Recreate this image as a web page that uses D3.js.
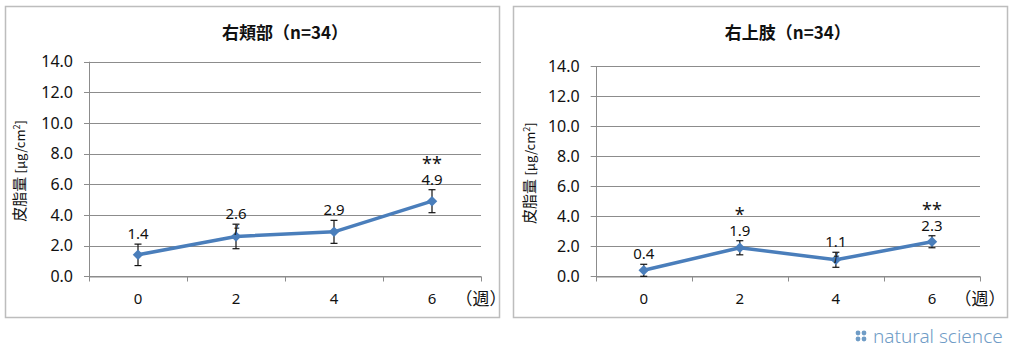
<!DOCTYPE html>
<html>
<head>
<meta charset="utf-8">
<script src="https://cdn.jsdelivr.net/npm/d3@7"></script>
<style>
  body { margin:0; background:#fff; }
  svg text { font-family: "Noto Sans", "Noto Sans CJK JP", sans-serif; }
</style>
</head>
<body>
<div id="chart"></div>
<script>
// ---- data
var weeks = ["0", "2", "4", "6"];
var yTicks = [0, 2, 4, 6, 8, 10, 12, 14];

var cheekMean = [1.4, 2.6, 2.9, 4.9];
var cheekSD = [0.7, 0.8, 0.75, 0.75];
var cheekSig = ["", "", "", "**"];
var cheekTrend = ["", "†", "", ""];

var armMean = [0.4, 1.9, 1.1, 2.3];
var armSD = [0.4, 0.47, 0.5, 0.4];
var armSig = ["", "*", "", "**"];
var armTrend = ["", "", "†", ""];

var W = 1015, H = 353;
var blue = "#4a7ebb";

var svg = d3.select("#chart").append("svg")
    .attr("width", W)
    .attr("height", H);

function drawPanel(p) {
    // frame
    svg.append("rect")
        .attr("x", p.box[0] + 0.5).attr("y", p.box[1] + 0.5)
        .attr("width", p.box[2]).attr("height", p.box[3])
        .attr("fill", "#fff").attr("stroke", "#bdbdbd").attr("stroke-width", 1.5);

    var x = d3.scaleBand().domain(weeks).range([p.left, p.right]);
    var y = d3.scaleLinear().domain([0, 14]).range([p.bottom, p.top]);

    var g = svg.append("g");

    // gridlines
    g.selectAll(".grid").data(yTicks).enter().append("line")
        .attr("x1", p.left - 5).attr("x2", p.right)
        .attr("y1", function(d) { return Math.round(y(d)) + 0.5; })
        .attr("y2", function(d) { return Math.round(y(d)) + 0.5; })
        .attr("stroke", "#8c8c8c").attr("stroke-width", 1);

    // y axis
    var yAxis = d3.axisLeft(y).tickValues(yTicks).tickSize(0).tickPadding(0)
        .tickFormat(d3.format(".1f"));
    var yg = g.append("g").attr("transform", "translate(" + (p.left - 16) + ",0)").call(yAxis);
    yg.select(".domain").remove();
    yg.selectAll("text").attr("font-size", 16).attr("fill", "#111")
        .attr("font-family", "'Open Sans', sans-serif");

    g.append("line")
        .attr("x1", Math.round(p.left) + 0.5).attr("x2", Math.round(p.left) + 0.5)
        .attr("y1", p.top).attr("y2", p.bottom)
        .attr("stroke", "#8c8c8c");

    // x axis
    var xg = g.append("g").attr("transform", "translate(0," + (Math.round(p.bottom) + 0.5) + ")")
        .call(d3.axisBottom(x).tickSize(0).tickPadding(17));
    xg.select(".domain").attr("stroke", "#8c8c8c");
    xg.selectAll("text").attr("font-size", 15).attr("fill", "#111")
        .attr("font-family", "'Open Sans', sans-serif");
    // category boundary ticks
    var bounds = weeks.map(function(d) { return x(d); }).concat([p.right]);
    xg.selectAll(".bt").data(bounds).enter().append("line")
        .attr("x1", function(d) { return Math.round(d) + 0.5; })
        .attr("x2", function(d) { return Math.round(d) + 0.5; })
        .attr("y1", 0).attr("y2", 5)
        .attr("stroke", "#8c8c8c");

    g.append("text")
        .attr("x", p.right).attr("y", p.bottom + 29)
        .attr("text-anchor", "middle")
        .attr("font-size", 17).attr("fill", "#111")
        .style("font-family", "'Noto Sans CJK JP'")
        .text("（週）");

    // title
    g.append("text")
        .attr("x", (p.left + p.right) / 2).attr("y", 39)
        .attr("text-anchor", "middle")
        .attr("font-size", 17).attr("font-weight", "bold").attr("fill", "#111")
        .style("font-family", "'Noto Sans CJK JP'")
        .text(p.title);

    // y label
    var yl = g.append("text")
        .attr("transform", "translate(" + p.ylabX + "," + ((p.top + p.bottom) / 2 + 2) + ") rotate(-90)")
        .attr("text-anchor", "middle")
        .attr("fill", "#111")
        .style("font-family", "'Noto Sans CJK JP'");
    yl.append("tspan").attr("font-size", 15).text("皮脂量 ");
    yl.append("tspan").attr("font-size", 13).text(" [μg/cm");
    yl.append("tspan").attr("font-size", 9).attr("dy", -5).text("2");
    yl.append("tspan").attr("font-size", 13).attr("dy", 5).text("]");

    var cx = function(i) { return x(weeks[i]) + x.bandwidth() / 2; };

    // error bars
    var eb = g.selectAll(".err").data(p.mean).enter().append("g");
    eb.append("line")
        .attr("x1", function(d, i) { return cx(i); })
        .attr("x2", function(d, i) { return cx(i); })
        .attr("y1", function(d, i) { return y(Math.max(0, d - p.sd[i])); })
        .attr("y2", function(d, i) { return y(d + p.sd[i]); })
        .attr("stroke", "#111").attr("stroke-width", 1.2);
    [1, -1].forEach(function(s) {
        eb.append("line")
            .attr("x1", function(d, i) { return cx(i) - 3.5; })
            .attr("x2", function(d, i) { return cx(i) + 3.5; })
            .attr("y1", function(d, i) { return y(Math.max(0, d - s * p.sd[i])); })
            .attr("y2", function(d, i) { return y(Math.max(0, d - s * p.sd[i])); })
            .attr("stroke", "#111").attr("stroke-width", 1.2);
    });

    // line
    var line = d3.line()
        .x(function(d, i) { return cx(i); })
        .y(function(d) { return y(d); });
    g.append("path").datum(p.mean)
        .attr("d", line)
        .attr("fill", "none")
        .attr("stroke", blue)
        .attr("stroke-width", 3.5)
        .attr("stroke-linejoin", "round");

    g.selectAll(".pt").data(p.mean).enter().append("path")
        .attr("d", d3.symbol().type(d3.symbolDiamond2).size(70))
        .attr("transform", function(d, i) { return "translate(" + cx(i) + "," + y(d) + ")"; })
        .attr("fill", blue);

    // trend daggers
    g.selectAll(".tr").data(p.trend).enter().append("text")
        .attr("x", function(d, i) { return cx(i); })
        .attr("y", function(d, i) { return y(p.mean[i] + p.sd[i]) + 11; })
        .attr("text-anchor", "middle")
        .attr("font-size", 13).attr("font-style", "italic").attr("fill", "#111")
        .text(function(d) { return d; });

    // value labels
    g.selectAll(".lbl").data(p.mean).enter().append("text")
        .attr("x", function(d, i) { return cx(i); })
        .attr("y", function(d, i) { return y(d + p.sd[i]) - 5; })
        .attr("text-anchor", "middle")
        .attr("font-size", 15).attr("fill", "#111")
        .attr("font-family", "'Open Sans', sans-serif")
        .text(function(d) { return d.toFixed(1); });

    // significance
    g.selectAll(".sig").data(p.sig).enter().append("text")
        .attr("x", function(d, i) { return cx(i); })
        .attr("y", function(d, i) { return y(p.mean[i] + p.sd[i]) - 20; })
        .attr("text-anchor", "middle")
        .attr("font-size", 18).attr("fill", "#111")
        .attr("font-family", "'DejaVu Sans', sans-serif")
        .text(function(d) { return d; });
}

drawPanel({
    box: [5, 6, 494, 311],
    left: 89, right: 481, top: 61.7, bottom: 276.3,
    ylabX: 25,
    title: "右頬部（n=34）",
    mean: cheekMean, sd: cheekSD, sig: cheekSig, trend: cheekTrend
});

drawPanel({
    box: [513, 6, 494, 311],
    left: 595.7, right: 980, top: 66, bottom: 276.3,
    ylabX: 535,
    title: "右上肢（n=34）",
    mean: armMean, sd: armSD, sig: armSig, trend: armTrend
});

// watermark
var wm = svg.append("g").attr("transform", "translate(858,337)");
[[0, -4], [6, -4], [0, 2], [6, 2]].forEach(function(c) {
    wm.append("circle").attr("cx", c[0]).attr("cy", c[1]).attr("r", 2.4).attr("fill", "#6f9cc6");
});
wm.append("text")
    .attr("x", 15).attr("y", 6)
    .attr("font-size", 19).attr("fill", "#6f9cc6")
    .attr("font-weight", 300)
    .text("natural science");
</script>
</body>
</html>
